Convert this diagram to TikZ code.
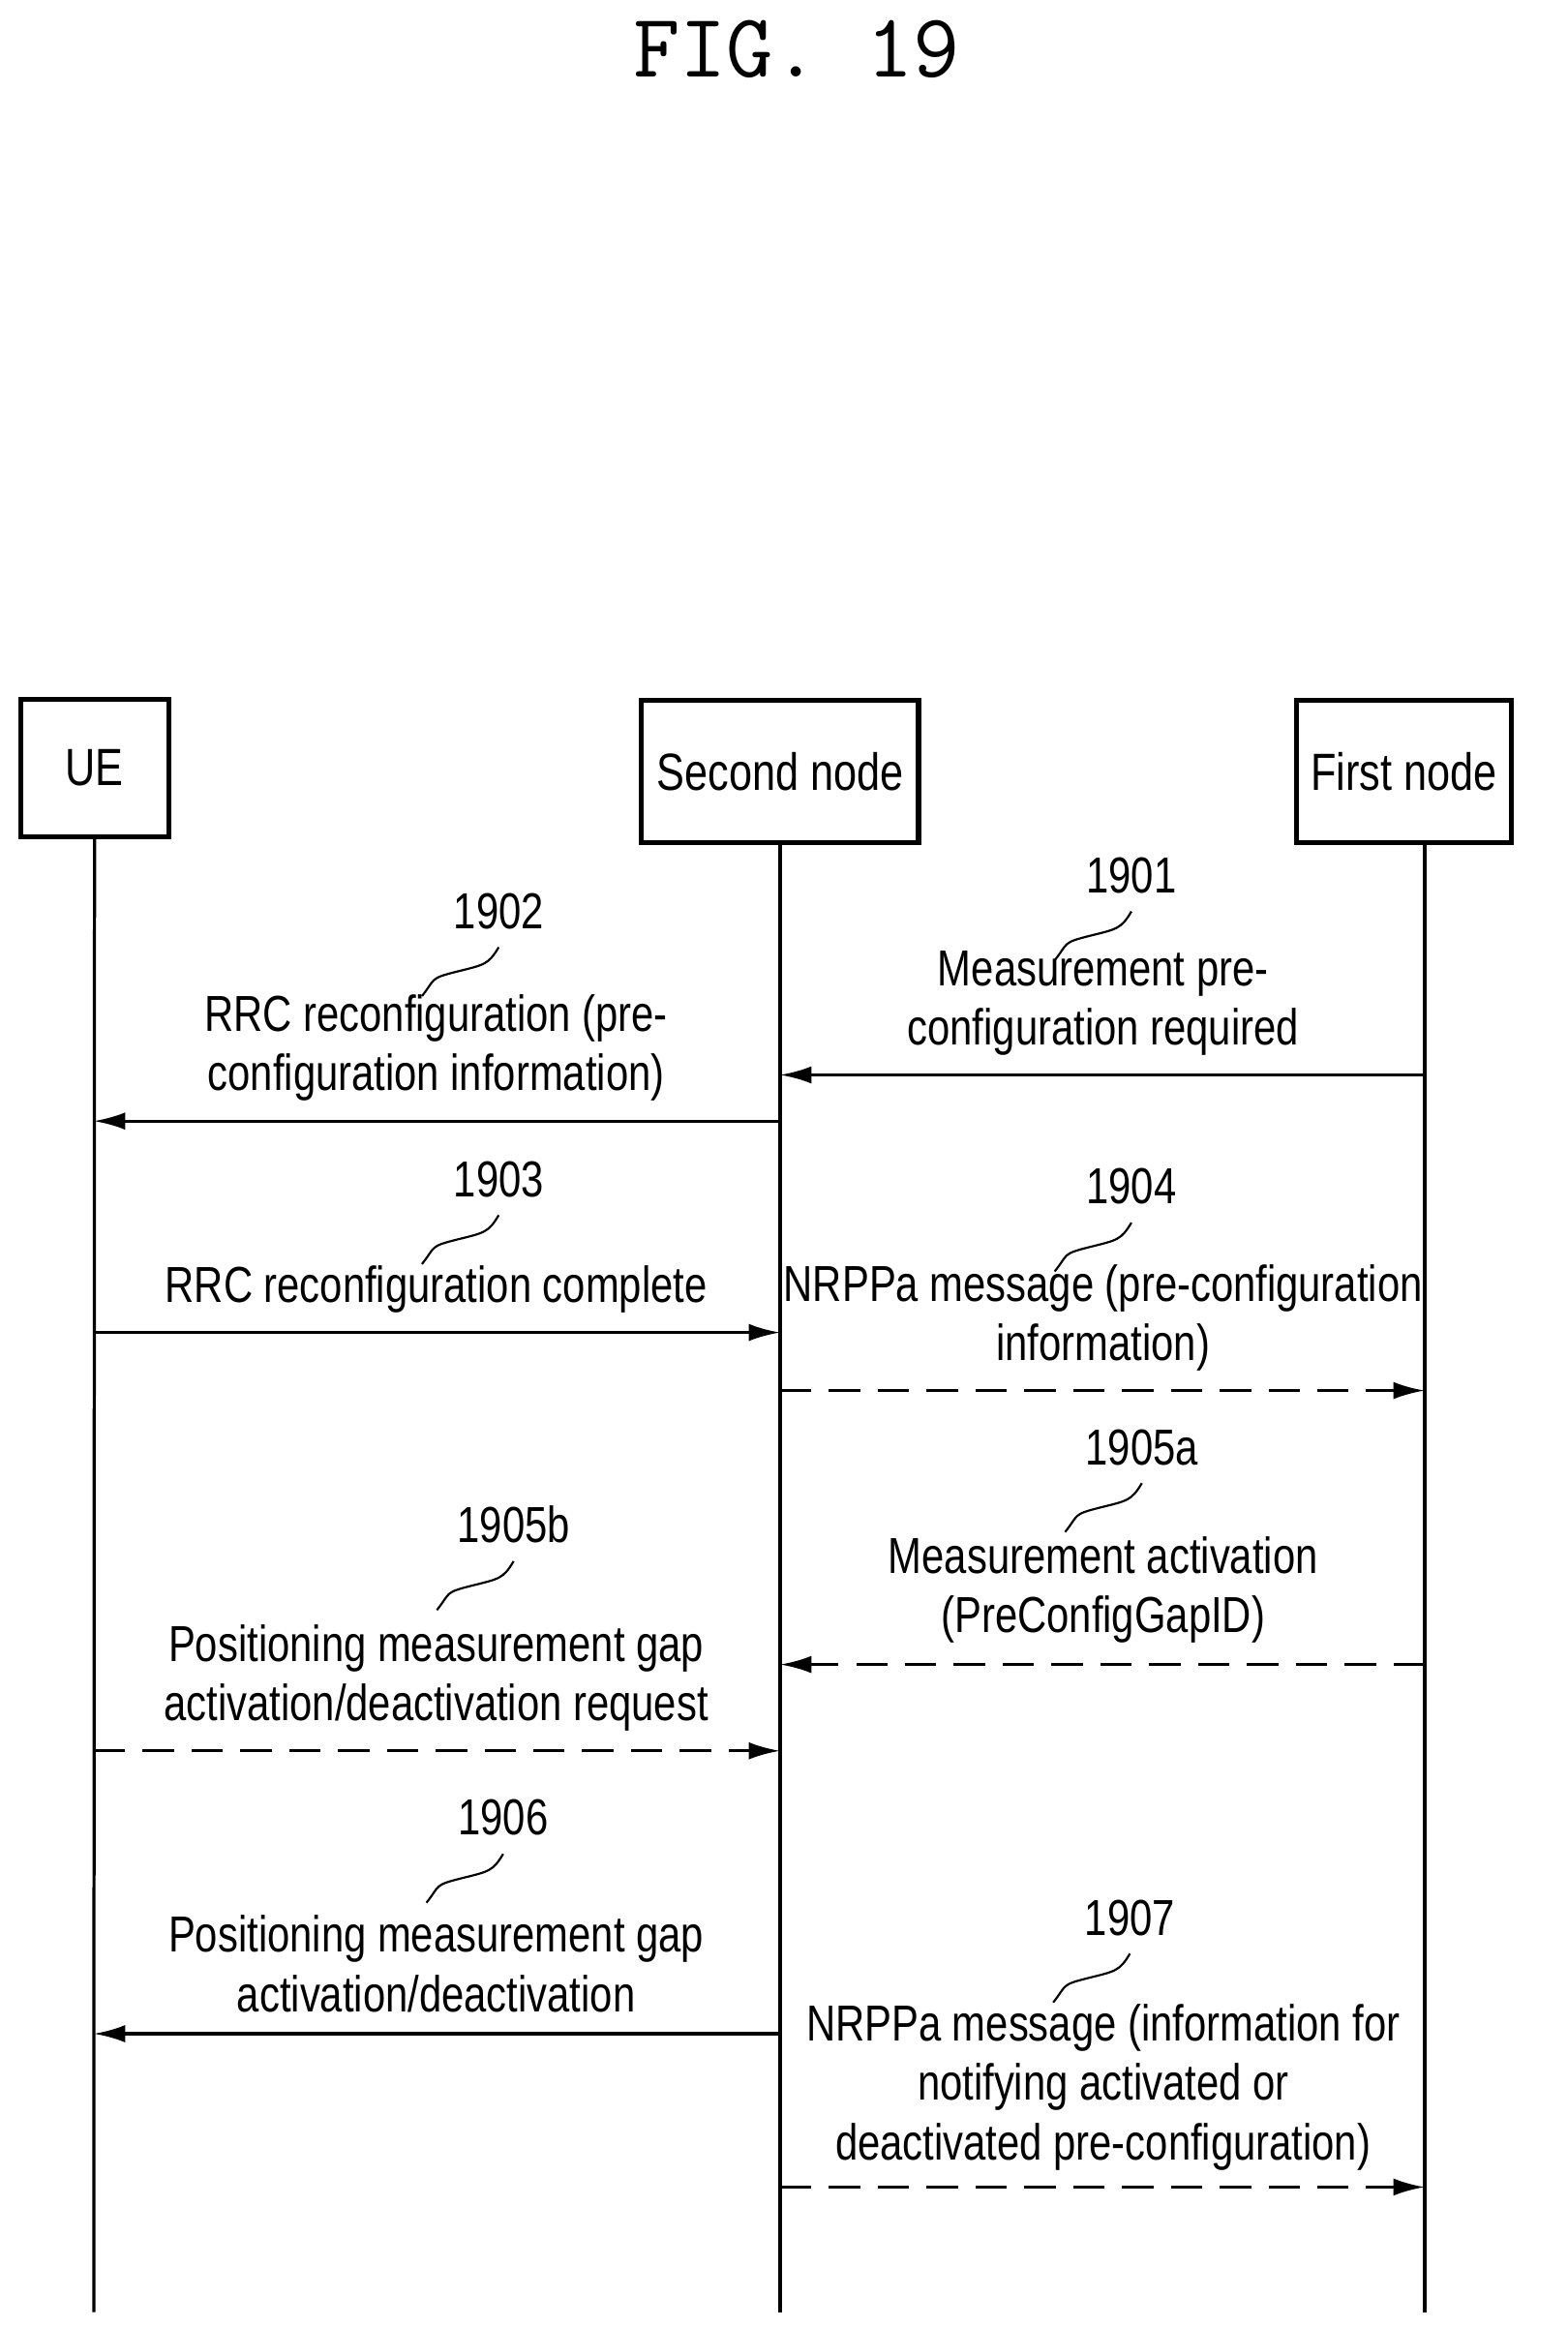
\documentclass[tikz,border=0pt]{standalone}
\usepackage{fontspec}
\setmainfont{Liberation Sans}[FakeStretch=0.8]
\usetikzlibrary{arrows.meta}
\tikzset{
  ent/.style={draw,line width=1.4pt,minimum height=1.38cm,inner sep=0pt,font=\fontsize{15}{18}\selectfont},
  life/.style={line width=0.9pt},
  msg/.style={line width=0.9pt,-{Latex[length=9pt,width=5pt]}},
  dmsg/.style={msg,dash pattern=on 9pt off 5pt},
  lbl/.style={align=center,font=\fontsize{14.5}{17}\selectfont,inner sep=0pt},
  num/.style={font=\fontsize{14.5}{17}\selectfont,inner sep=0pt}
}
\newcommand{\stepnum}[3]{% name, position, text
  \node[num] (#1) at (#2) {#3};
  \draw[line width=0.6pt] ([xshift=-22pt,yshift=-19pt]#1.south)
    .. controls +(4pt,5pt) and +(-8pt,-2pt) .. ([xshift=-12pt,yshift=-12pt]#1.south)
    .. controls +(8pt,2pt) and +(-3pt,-5pt) .. ([xshift=0pt,yshift=-5pt]#1.south);
}
\begin{document}
\begin{tikzpicture}[x=0.015cm,y=-0.015cm]
\useasboundingbox (0,0) rectangle (1053,1563);
\node[font=\ttfamily\fontsize{26}{30}\selectfont] (title) at (535,33) {FIG. 19};
% entities
\node[ent,minimum width=1.49cm] (ue) at (63.5,516) {UE};
\node[ent,minimum width=2.79cm,minimum height=1.43cm] (second) at (524,518) {Second node};
\node[ent,minimum width=2.16cm,minimum height=1.43cm] (first) at (943,518) {First node};
% lifelines
\coordinate (ueend) at (63,1553);
\coordinate (secend) at (524,1553);
\coordinate (firstend) at (957,1553);
\coordinate (firsttop) at (957,566);
\draw[life] (ue.south) -- (ueend);
\draw[life] (second.south) -- (secend);
\draw[life] (firsttop) -- (firstend);
% messages
\foreach \y/\src/\dst/\sty in {722/957/524/msg, 753/524/63/msg, 895/63/524/msg,
  934/524/957/dmsg, 1118/957/524/dmsg, 1176/63/524/dmsg, 1366/524/63/msg, 1469/524/957/dmsg}
  \draw[\sty] (\src,\y) -- (\dst,\y);
% labels
\stepnum{n1901}{760,588}{1901}
\node[lbl] (t1901) at (741,674) {Measurement pre-\\configuration required};
\stepnum{n1902}{335,612}{1902}
\node[lbl] (t1902) at (293,704) {RRC reconfiguration (pre-\\configuration information)};
\stepnum{n1903}{335,792}{1903}
\node[lbl] (t1903) at (293,866) {RRC reconfiguration complete};
\stepnum{n1904}{760,797}{1904}
\node[lbl] (t1904) at (741,885) {NRPPa message (pre-configuration\\information)};
\stepnum{n1905a}{767,972}{1905a}
\node[lbl] (t1905a) at (741,1068) {Measurement activation\\(PreConfigGapID)};
\stepnum{n1905b}{345,1024}{1905b}
\node[lbl] (t1905b) at (293,1127) {Positioning measurement gap\\activation/deactivation request};
\stepnum{n1906}{338,1221}{1906}
\node[lbl] (t1906) at (293,1319) {Positioning measurement gap\\activation/deactivation};
\stepnum{n1907}{759,1288}{1907}
\node[lbl] (t1907) at (741,1402) {NRPPa message (information for\\notifying activated or\\deactivated pre-configuration)};
\end{tikzpicture}
\end{document}
